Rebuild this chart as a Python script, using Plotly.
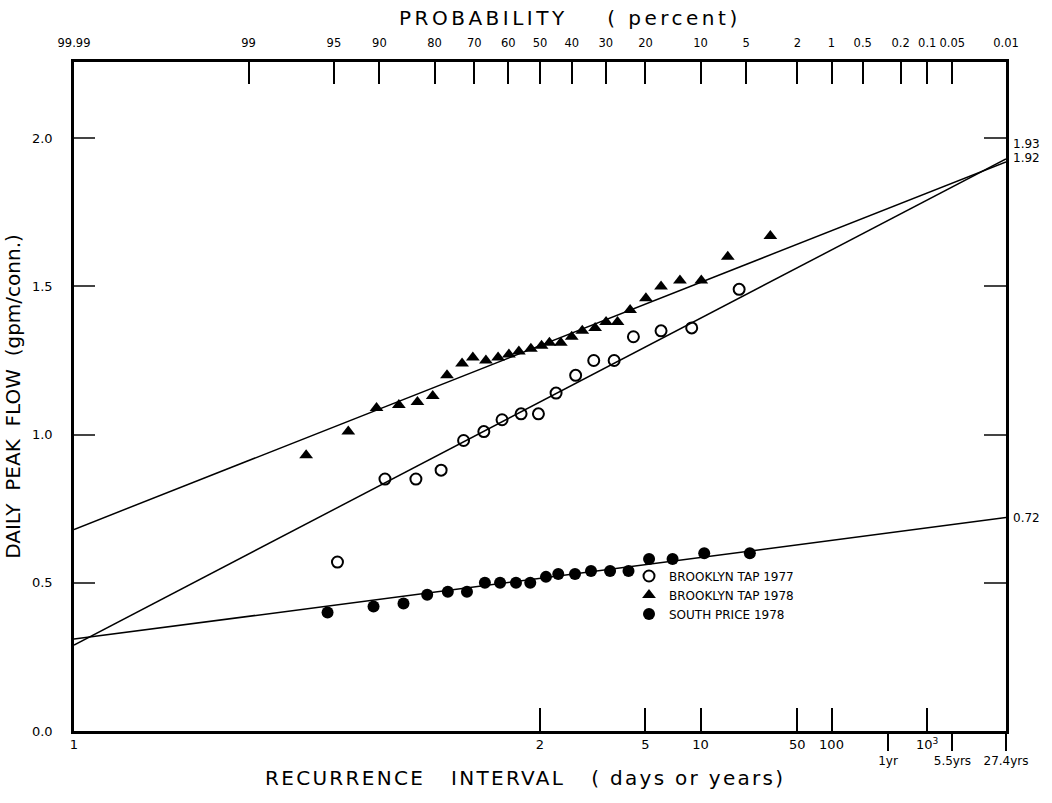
import plotly.graph_objects as go
from statistics import NormalDist

ND = NormalDist()

# ---- data: exceedance probability (percent) and daily peak flow (gpm/conn.) ----
bt77_prob = [94.7, 89.2, 83.9, 78.5, 72.9, 67.3, 61.9, 56.0, 50.5, 44.9, 38.8, 33.4,
             27.7, 22.8, 16.7, 11.3, 5.6]
bt77_flow = [0.57, 0.85, 0.85, 0.88, 0.98, 1.01, 1.05, 1.07, 1.07, 1.14, 1.20, 1.25,
             1.25, 1.33, 1.35, 1.36, 1.49]

bt78_prob = [96.9, 93.7, 90.4, 87.0, 83.6, 80.4, 77.1, 73.3, 70.4, 66.7, 63.1, 59.8,
             56.7, 52.9, 49.5, 47.0, 43.4, 40.0, 36.8, 33.0, 29.9, 26.8, 23.6, 19.9,
             16.7, 13.2, 9.9, 6.7, 3.3]
bt78_flow = [0.93, 1.01, 1.09, 1.10, 1.11, 1.13, 1.20, 1.24, 1.26, 1.25, 1.26, 1.27,
             1.28, 1.29, 1.30, 1.31, 1.31, 1.33, 1.35, 1.36, 1.38, 1.38, 1.42, 1.46,
             1.50, 1.52, 1.52, 1.60, 1.67]

sp78_prob = [95.5, 90.8, 86.2, 81.6, 76.9, 72.0, 67.0, 62.5, 57.6, 53.1, 48.1, 44.2,
             39.0, 34.2, 28.8, 24.0, 19.2, 14.5, 9.5, 4.7]
sp78_flow = [0.40, 0.42, 0.43, 0.46, 0.47, 0.47, 0.50, 0.50, 0.50, 0.50, 0.52, 0.53,
             0.53, 0.54, 0.54, 0.54, 0.58, 0.58, 0.60, 0.60]

# fitted lines (value at 99.99 % and at 0.01 %)
fit_prob = [99.99, 0.01]
bt77_fit = [0.29, 1.93]
bt78_fit = [0.68, 1.92]
sp78_fit = [0.31, 0.72]

series_names = ["BROOKLYN TAP 1977", "BROOKLYN TAP 1978", "SOUTH PRICE 1978"]

# top axis: probability (percent)
prob_ticks = [99.99, 99, 95, 90, 80, 70, 60, 50, 40, 30, 20, 10, 5, 2, 1, 0.5, 0.2, 0.1, 0.05, 0.01]
prob_labels = ["99.99", "99", "95", "90", "80", "70", "60", "50", "40", "30", "20", "10",
               "5", "2", "1", "0.5", "0.2", "0.1", "0.05", "0.01"]

# bottom axis: recurrence interval (days)
rec_ticks = [1, 2, 5, 10, 50, 100, 1000]
rec_labels = ["1", "2", "5", "10", "50", "100", "10<sup>3</sup>"]
rec_year_ticks = [365, 2007.5, 10000]
rec_year_labels = ["1yr", "5.5yrs", "27.4yrs"]

y_ticks = [0.0, 0.5, 1.0, 1.5, 2.0]
y_labels = ["0.0", "0.5", "1.0", "1.5", "2.0"]


def z(p):
    p = min(max(p, 0.01), 99.99)
    return ND.inv_cdf(1 - p / 100.0)


def zs(ps):
    return [z(p) for p in ps]


def z_rec(t):
    return z(100.0 / t)


def spaced(text, px):
    return f'<span style="letter-spacing:{px}px">{text}</span>'


ZMIN, ZMAX = z(99.99), z(0.01)
YR = [0, 2.257]
FONT = "DejaVu Sans"

fig = go.Figure()

# fitted lines (top/right axis pair shares identical ranges)
for fit in (bt77_fit, bt78_fit, sp78_fit):
    fig.add_trace(go.Scatter(x=zs(fit_prob), y=fit, mode="lines", xaxis="x2", yaxis="y2",
                             line=dict(color="black", width=1.5), showlegend=False,
                             hoverinfo="skip"))

fig.add_trace(go.Scatter(x=zs(bt77_prob), y=bt77_flow, mode="markers", name=series_names[0],
                         marker=dict(symbol="circle-open", size=11, color="black",
                                     line=dict(width=2, color="black"))))
fig.add_trace(go.Scatter(x=zs(bt78_prob), y=bt78_flow, mode="markers", name=series_names[1],
                         marker=dict(symbol="triangle-up", size=12, color="black")))
fig.add_trace(go.Scatter(x=zs(sp78_prob), y=sp78_flow, mode="markers", name=series_names[2],
                         marker=dict(symbol="circle", size=12, color="black")))

# invisible trace to activate the extra bottom axis
fig.add_trace(go.Scatter(x=[ZMIN, ZMAX], y=[0, 0], xaxis="x3", mode="markers",
                         marker=dict(opacity=0), showlegend=False, hoverinfo="skip"))

axis_common = dict(range=[ZMIN, ZMAX], autorange=False, showgrid=False, zeroline=False,
                   color="black", tickcolor="black", tickangle=0)

fig.update_layout(
    width=1052, height=803,
    margin=dict(l=74, r=46, t=62, b=72),
    paper_bgcolor="white", plot_bgcolor="white",
    font=dict(family=FONT, color="black"),
    xaxis=dict(**axis_common, side="bottom", showline=True, linewidth=2.5, linecolor="black",
               ticks="inside", ticklen=23, tickwidth=1.5,
               tickvals=[z_rec(t) for t in rec_ticks], ticktext=rec_labels,
               tickfont=dict(size=13)),
    xaxis2=dict(**axis_common, overlaying="x", side="top", anchor="y", showline=True,
                linewidth=2.5, linecolor="black", ticks="inside", ticklen=22, tickwidth=1.5,
                tickvals=zs(prob_ticks), ticktext=prob_labels, tickfont=dict(size=11.5),
                ticklabelstandoff=8),
    xaxis3=dict(**axis_common, overlaying="x", side="bottom", anchor="y", showline=False,
                ticks="outside", ticklen=19, tickwidth=1.5,
                tickvals=[z_rec(t) for t in rec_year_ticks], ticktext=rec_year_labels,
                tickfont=dict(size=12)),
    yaxis=dict(range=YR, autorange=False, showgrid=False, zeroline=False, showline=True,
               linewidth=2.5, linecolor="black", ticks="inside", ticklen=21, tickwidth=1.5,
               tickvals=y_ticks, ticktext=y_labels, tickfont=dict(size=13),
               ticklabelstandoff=16,
               title=dict(text="DAILY  PEAK  FLOW  (gpm/conn.)", font=dict(size=20),
                          standoff=6)),
    yaxis2=dict(range=YR, autorange=False, overlaying="y", side="right", anchor="x2",
                showgrid=False, zeroline=False, showline=True, linewidth=2.5,
                linecolor="black", ticks="inside", ticklen=22, tickwidth=1.5,
                tickvals=y_ticks[1:], showticklabels=False),
    legend=dict(x=0.5955, y=0.2534, xanchor="left", yanchor="top", bgcolor="rgba(0,0,0,0)",
                font=dict(size=12), tracegroupgap=0),
    annotations=[
        dict(text=spaced("PROBABILITY    ( percent)", 3.5), xref="paper", yref="paper",
             x=(570 - 74) / 932, y=1, yshift=44, xanchor="center", yanchor="middle",
             showarrow=False, font=dict(size=20)),
        dict(text=spaced("RECURRENCE   INTERVAL   ( days or years)", 2.3), xref="paper",
             yref="paper", x=(525 - 74) / 932, y=0, yshift=-47, xanchor="center",
             yanchor="middle", showarrow=False, font=dict(size=20)),
        dict(text=f"{bt77_fit[1]:.2f}", xref="paper", yref="y", x=1, y=bt77_fit[1],
             xanchor="left", yanchor="middle", xshift=5, yshift=15, showarrow=False,
             font=dict(size=12)),
        dict(text=f"{bt78_fit[1]:.2f}", xref="paper", yref="y", x=1, y=bt78_fit[1],
             xanchor="left", yanchor="middle", xshift=5, yshift=4, showarrow=False,
             font=dict(size=12)),
        dict(text=f"{sp78_fit[1]:.2f}", xref="paper", yref="y", x=1, y=sp78_fit[1],
             xanchor="left", yanchor="middle", xshift=5, showarrow=False,
             font=dict(size=12)),
    ],
)

fig.write_html("out.html")
